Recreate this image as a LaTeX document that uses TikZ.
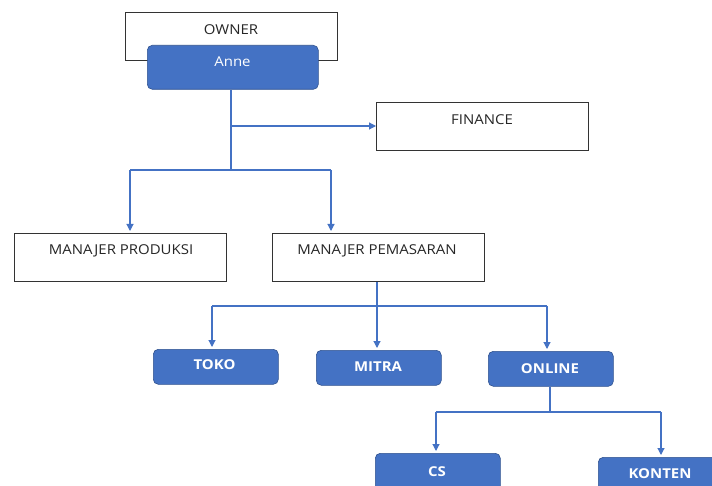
\documentclass[tikz,border=0pt]{standalone}
\usepackage{fontspec}
\setmainfont[FakeStretch=1.1]{Open Sans}
\usetikzlibrary{arrows.meta}
\definecolor{obl}{HTML}{4472C4}
\definecolor{obd}{HTML}{2F528F}
\begin{document}
\begin{tikzpicture}[x=1pt,y=-1pt,
  wbox/.style={draw=black!80,line width=1pt,fill=white,minimum width=212pt,minimum height=48pt,anchor=north west,inner sep=0pt},
  bbox/.style={draw=obd,line width=0.6pt,fill=obl,rounded corners=5pt,minimum width=125pt,minimum height=35pt,anchor=north west,inner sep=0pt},
  lbl/.style={font=\fontsize{13.6}{16}\selectfont,text=black!85},
  wlbl/.style={font=\fontsize{13.6}{16}\selectfont\bfseries,text=white},
  conn/.style={draw=obl,line width=1.1pt},
  arr/.style={conn,-{Triangle[length=7pt,width=7pt]}}]
\clip (0,0) rectangle (712,486);
\fill[white] (0,0) rectangle (712,486);
\useasboundingbox (0,0) rectangle (712,486);
% white boxes
\node[wbox] (owner) at (125,12) {};
\node[lbl] at (231,29.5) {OWNER};
\node[bbox,minimum width=171pt,minimum height=44pt] (anne) at (147,45) {};
\node[font=\fontsize{13.6}{16}\selectfont,text=white,anchor=base] at (232.5,67) {Anne};
\node[wbox] (fin) at (376,102) {};
\node[lbl] at (482,120) {FINANCE};
\node[wbox] (prod) at (14,233) {};
\node[lbl] at (121,251) {MANAJER PRODUKSI};
\node[wbox] (pem) at (272,233) {};
\node[lbl] at (377,251) {MANAJER PEMASARAN};
% blue boxes
\node[bbox] (toko) at (153,349) {};
\node[wlbl] at (214.5,364.5) {TOKO};
\node[bbox] (mitra) at (316,350) {};
\node[wlbl] at (378,367) {MITRA};
\node[bbox] (online) at (488,351) {};
\node[wlbl] at (550,369) {ONLINE};
\node[bbox,minimum height=45pt] (cs) at (375,453) {};
\node[wlbl] at (437,472) {CS};
\node[bbox,minimum height=45pt] (konten) at (598,457) {};
\node[wlbl] at (660,474) {KONTEN};
% coordinates
\coordinate (a1) at (231,126);
\coordinate (a2) at (231,170);
\coordinate (f1) at (376,126);
\coordinate (p1) at (130,170);
\coordinate (p2) at (130,231);
\coordinate (q1) at (331,170);
\coordinate (q2) at (331,231);
\coordinate (m0) at (377,306);
\coordinate (t1) at (212,306);
\coordinate (t2) at (212,347);
\coordinate (r2) at (377,348);
\coordinate (o1) at (547,306);
\coordinate (o2) at (547,349);
\coordinate (n0) at (550,412);
\coordinate (c1) at (436,412);
\coordinate (c2) at (436,451);
\coordinate (k1) at (661,412);
\coordinate (k2) at (661,455);
% connectors
\draw[conn] (anne.south -| a1) -- (a2);
\draw[arr] (a1) -- (f1);
\draw[conn] (p1) -- (q1);
\draw[arr] (p1) -- (p2);
\draw[arr] (q1) -- (q2);
\draw[conn] (pem.south -| m0) -- (m0);
\draw[conn] (t1) -- (o1);
\draw[arr] (t1) -- (t2);
\draw[arr] (m0) -- (r2);
\draw[arr] (o1) -- (o2);
\draw[conn] (online.south -| n0) -- (n0);
\draw[conn] (c1) -- (k1);
\draw[arr] (c1) -- (c2);
\draw[arr] (k1) -- (k2);
\end{tikzpicture}
\end{document}
